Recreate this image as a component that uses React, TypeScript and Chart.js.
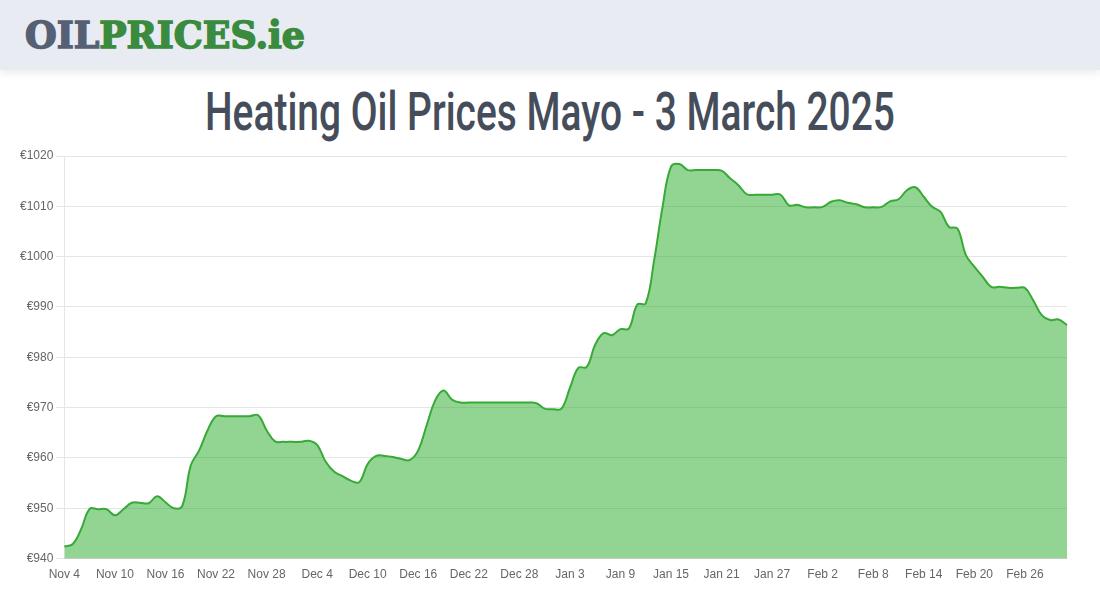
import React, { useEffect, useLayoutEffect, useRef } from "react";
import { Chart, registerables } from "chart.js";

Chart.register(...registerables);

const START_DATE = "2024-11-04";
const DAY_COUNT = 120;
const MONTHS = ["Jan", "Feb", "Mar", "Apr", "May", "Jun", "Jul", "Aug", "Sep", "Oct", "Nov", "Dec"];

const dayLabels: string[] = (() => {
  const out: string[] = [];
  const d0 = new Date(START_DATE + "T12:00:00Z");
  for (let i = 0; i < DAY_COUNT; i++) {
    const d = new Date(d0.getTime() + i * 86400000);
    out.push(MONTHS[d.getUTCMonth()] + " " + d.getUTCDate());
  }
  return out;
})();

const prices: number[] = [
  942.4, 942.9, 945.9, 949.9, 949.8, 949.8, 948.6, 949.8, 951.1, 951.1,
  951.0, 952.4, 951.2, 950.0, 950.5, 958.5, 961.5, 965.5, 968.3, 968.3,
  968.3, 968.3, 968.3, 968.5, 965.5, 963.3, 963.2, 963.2, 963.2, 963.4,
  962.6, 959.3, 957.3, 956.4, 955.5, 955.2, 958.8, 960.4, 960.4, 960.2,
  959.8, 959.6, 961.5, 966.5, 971.4, 973.4, 971.6, 971.0, 971.0, 971.0,
  971.0, 971.0, 971.0, 971.0, 971.0, 971.0, 970.9, 969.8, 969.7, 969.8,
  973.9, 977.9, 978.1, 982.5, 984.8, 984.4, 985.6, 985.7, 990.5, 990.7,
  999.3, 1009.9, 1017.9, 1018.4, 1017.2, 1017.2, 1017.2, 1017.2, 1017.1, 1015.6,
  1014.2, 1012.4, 1012.3, 1012.3, 1012.3, 1012.3, 1010.2, 1010.3, 1009.8, 1009.8,
  1009.9, 1010.9, 1011.2, 1010.7, 1010.4, 1009.8, 1009.8, 1009.9, 1011.0, 1011.4,
  1013.2, 1013.8, 1011.9, 1009.9, 1008.9, 1005.9, 1005.6, 1000.3, 998.0, 996.0,
  994.0, 994.0, 993.8, 993.8, 993.8, 991.3, 988.4, 987.4, 987.5, 986.4,
];

const Y_MIN = 940;
const Y_MAX = 1020;
const Y_STEP = 10;
const LABEL_EVERY = 6;

const TITLE = "Heating Oil Prices Mayo - 3 March 2025";

function FitText(props: { text: React.ReactNode; width: number; style: React.CSSProperties }) {
  const ref = useRef<HTMLSpanElement>(null);
  useLayoutEffect(() => {
    const el = ref.current;
    if (!el) return;
    el.style.transform = "none";
    const w = el.getBoundingClientRect().width;
    if (w > 0) el.style.transform = `scaleX(${props.width / w})`;
  }, [props.width]);
  return (
    <span ref={ref} style={{ display: "inline-block", whiteSpace: "nowrap", transformOrigin: "left top", ...props.style }}>
      {props.text}
    </span>
  );
}

export default function App() {
  const canvasRef = useRef<HTMLCanvasElement>(null);

  useEffect(() => {
    const canvas = canvasRef.current;
    if (!canvas) return;
    const chart = new Chart(canvas, {
      type: "line",
      data: {
        labels: dayLabels,
        datasets: [
          {
            data: prices,
            borderColor: "#37a935",
            backgroundColor: "rgba(37,171,39,0.5)",
            borderWidth: 2,
            fill: true,
            tension: 0.4,
            pointRadius: 0,
            pointHoverRadius: 0,
          },
        ],
      },
      options: {
        animation: false,
        responsive: false,
        maintainAspectRatio: false,
        layout: { padding: { left: 17, right: 33, top: 16, bottom: 6 } },
        plugins: { legend: { display: false }, tooltip: { enabled: false } },
        scales: {
          x: {
            grid: { display: false },
            ticks: {
              autoSkip: false,
              maxRotation: 0,
              minRotation: 0,
              padding: 1,
              color: "#666",
              font: { family: "'Liberation Sans', Arial, sans-serif", size: 12 },
              callback: (_v: any, i: number) => (i % LABEL_EVERY === 0 ? dayLabels[i] : null),
            },
          },
          y: {
            min: Y_MIN,
            max: Y_MAX,
            ticks: {
              stepSize: Y_STEP,
              color: "#666",
              font: { family: "'Liberation Sans', Arial, sans-serif", size: 12 },
              callback: (v: any) => "€" + v,
            },
            grid: { color: "rgba(0,0,0,0.1)" },
          },
        },
      },
    });
    return () => chart.destroy();
  }, []);

  return (
    <div style={{ position: "fixed", left: 0, top: 0, width: 1100, height: 600, overflow: "hidden", background: "#fff" }}>
      <div
        style={{
          position: "absolute",
          left: 0,
          top: 0,
          width: 1100,
          height: 70,
          background: "#e9ebf3",
          boxShadow: "0 3px 8px rgba(0,0,0,0.08)",
        }}
      >
        <div style={{ position: "absolute", left: 25, top: 12 }}>
          <FitText
            width={280}
            text={
              <>
                <span style={{ color: "#566074", WebkitTextStroke: "1.6px #566074" }}>OIL</span>
                <span style={{ color: "#3a8b3e", WebkitTextStroke: "1.6px #3a8b3e" }}>PRICES.ie</span>
              </>
            }
            style={{ fontFamily: "'DejaVu Serif', serif", fontWeight: 900, fontSize: 38, lineHeight: "46px", letterSpacing: 0 }}
          />
        </div>
      </div>
      <div style={{ position: "absolute", left: 205, top: 80 }}>
        <FitText
          width={690}
          text={TITLE}
          style={{ fontFamily: "Roboto, 'Liberation Sans', sans-serif", fontWeight: 500, fontSize: 54, lineHeight: "64px", color: "#454d5b" }}
        />
      </div>
      <div style={{ position: "absolute", left: 0, top: 140, width: 1100, height: 449 }}>
        <canvas ref={canvasRef} width={1100} height={449} style={{ display: "block" }} />
      </div>
    </div>
  );
}
